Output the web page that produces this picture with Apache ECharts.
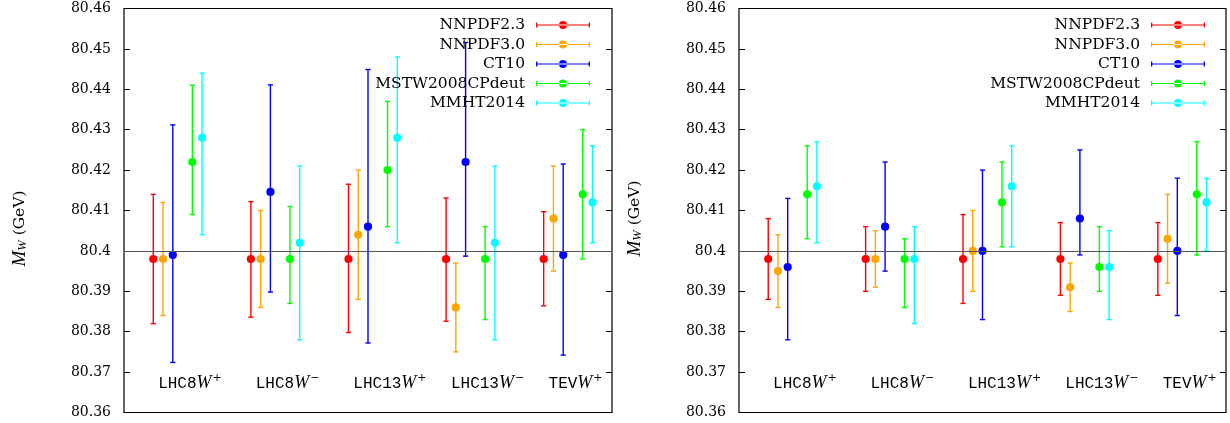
<!DOCTYPE html>
<html>
<head>
<meta charset="utf-8">
<script src="https://cdn.jsdelivr.net/npm/echarts@6/dist/echarts.min.js"></script>
<style>html,body{margin:0;padding:0;background:#fff}#c{width:1230px;height:423px}</style>
</head>
<body>
<div id="c"></div>
<script>
// ---------- data ----------
const groupNames = ['LHC8', 'LHC8', 'LHC13', 'LHC13', 'TEV'];
const groupCharges = ['+', '\u2212', '+', '\u2212', '+'];
const seriesNames = ['NNPDF2.3', 'NNPDF3.0', 'CT10', 'MSTW2008CPdeut', 'MMHT2014'];
const seriesColors = ['#ff0000', '#ffa500', '#0000ff', '#00ff00', '#00ffff'];
const referenceMass = 80.398;
const labelLevel = 80.3675;
const yMin = 80.36, yMax = 80.46, yStep = 0.01;

// each entry: [central, low, high] for groups LHC8W+, LHC8W-, LHC13W+, LHC13W-, TEVW+
const left_NNPDF23 = [[80.398, 80.382, 80.414], [80.398, 80.3836, 80.4122], [80.398, 80.3798, 80.4165], [80.398, 80.3826, 80.4131], [80.398, 80.3864, 80.4097]];
const left_NNPDF30 = [[80.398, 80.384, 80.412], [80.398, 80.386, 80.410], [80.404, 80.388, 80.420], [80.386, 80.375, 80.397], [80.408, 80.395, 80.421]];
const left_CT10 = [[80.399, 80.3724, 80.4312], [80.4146, 80.3898, 80.4411], [80.406, 80.3772, 80.4449], [80.422, 80.3987, 80.4516], [80.399, 80.3742, 80.4215]];
const left_MSTW = [[80.422, 80.409, 80.441], [80.398, 80.387, 80.411], [80.420, 80.406, 80.437], [80.398, 80.383, 80.406], [80.414, 80.398, 80.430]];
const left_MMHT = [[80.428, 80.404, 80.444], [80.402, 80.378, 80.421], [80.428, 80.402, 80.448], [80.402, 80.378, 80.421], [80.412, 80.402, 80.426]];

const right_NNPDF23 = [[80.398, 80.388, 80.408], [80.398, 80.390, 80.406], [80.398, 80.387, 80.409], [80.398, 80.389, 80.407], [80.398, 80.389, 80.407]];
const right_NNPDF30 = [[80.395, 80.386, 80.404], [80.398, 80.391, 80.405], [80.400, 80.390, 80.410], [80.391, 80.385, 80.397], [80.403, 80.392, 80.414]];
const right_CT10 = [[80.396, 80.378, 80.413], [80.406, 80.395, 80.422], [80.400, 80.383, 80.420], [80.408, 80.399, 80.425], [80.400, 80.384, 80.418]];
const right_MSTW = [[80.414, 80.403, 80.426], [80.398, 80.386, 80.403], [80.412, 80.401, 80.422], [80.396, 80.390, 80.406], [80.414, 80.399, 80.427]];
const right_MMHT = [[80.416, 80.402, 80.427], [80.398, 80.382, 80.406], [80.416, 80.401, 80.426], [80.396, 80.383, 80.405], [80.412, 80.400, 80.418]];

const leftPanel = [left_NNPDF23, left_NNPDF30, left_CT10, left_MSTW, left_MMHT];
const rightPanel = [right_NNPDF23, right_NNPDF30, right_CT10, right_MSTW, right_MMHT];

// ---------- layout ----------
const seriesOffsets = [-0.2, -0.1, 0, 0.2, 0.3];
const labelOffset = -0.15;
const SERIF = 'DejaVu Serif';

const chart = echarts.init(document.getElementById('c'), null, {renderer: 'canvas'});

function errRender(params, api) {
  const x = api.value(0);
  const c = api.coord([x, api.value(1)]);
  const lo = api.coord([x, api.value(2)]);
  const hi = api.coord([x, api.value(3)]);
  const color = api.visual('color');
  const cap = 2.6;
  const ls = {stroke: color, lineWidth: 1.4};
  return {
    type: 'group',
    children: [
      {type: 'line', shape: {x1: c[0], y1: lo[1], x2: c[0], y2: hi[1]}, style: ls},
      {type: 'line', shape: {x1: c[0] - cap, y1: lo[1], x2: c[0] + cap, y2: lo[1]}, style: ls},
      {type: 'line', shape: {x1: c[0] - cap, y1: hi[1], x2: c[0] + cap, y2: hi[1]}, style: ls},
      {type: 'circle', shape: {cx: c[0], cy: c[1], r: 4.1}, style: {fill: color}}
    ]
  };
}

function labelRender(params, api) {
  const p = api.coord([api.value(0), api.value(1)]);
  const i = params.dataIndex;
  return {
    type: 'text',
    x: p[0], y: p[1],
    style: {
      text: '{tt|' + groupNames[i] + '}{w|W}{sup|' + groupCharges[i] + '}',
      textAlign: 'left', textVerticalAlign: 'middle',
      rich: {
        tt: {fontFamily: 'Liberation Mono', fontSize: 16, fill: '#000', verticalAlign: 'bottom', lineHeight: 20},
        w: {fontFamily: 'Liberation Serif', fontStyle: 'italic', fontSize: 18, fill: '#000', verticalAlign: 'bottom', lineHeight: 20},
        sup: {fontFamily: 'DejaVu Serif', fontSize: 11, fill: '#000', verticalAlign: 'top', lineHeight: 20, padding: [0, 0, 0, 1]}
      }
    }
  };
}

const legendIcon = 'path://M0,1.5h1.3v5h-1.3zM52.7,1.5h1.3v5h-1.3zM0,3.4h54v1.2h-54zM23,4a4,4 0 1,0 8,0a4,4 0 1,0 -8,0z';

const grids = [
  {left: 124, width: 488, top: 8.5, height: 404, show: true, borderColor: '#000', borderWidth: 1.2, backgroundColor: 'transparent'},
  {left: 739, width: 487, top: 8.5, height: 404, show: true, borderColor: '#000', borderWidth: 1.2, backgroundColor: 'transparent'}
];

const xAxes = [0, 1].map(g => ({
  type: 'value', gridIndex: g, min: 0.5, max: 5.5,
  axisLine: {show: false}, axisTick: {show: false}, axisLabel: {show: false}, splitLine: {show: false}
}));

const yAxes = [];
[0, 1].forEach(g => {
  yAxes.push({
    type: 'value', gridIndex: g, position: 'left', min: yMin, max: yMax, interval: yStep,
    axisLine: {show: false},
    axisTick: {show: true, inside: true, length: 6, lineStyle: {color: '#000', width: 1}},
    axisLabel: {show: true, fontFamily: SERIF, fontSize: 14, color: '#000', margin: 13},
    splitLine: {show: false},
    name: '{i|M}{sub|W} (GeV)',
    nameLocation: 'middle', nameRotate: 90, nameGap: 95,
    nameTextStyle: {
      fontFamily: SERIF, fontSize: 15.5, color: '#000',
      padding: g === 0 ? [0, 36, 0, 0] : [0, 16, 0, 0],
      rich: {
        i: {fontFamily: 'Liberation Serif', fontStyle: 'italic', fontSize: 19, color: '#000'},
        sub: {fontFamily: 'Liberation Serif', fontStyle: 'italic', fontSize: 12.5, color: '#000', verticalAlign: 'bottom'}
      }
    }
  });
  yAxes.push({
    type: 'value', gridIndex: g, position: 'right', min: yMin, max: yMax, interval: yStep,
    axisLine: {show: false},
    axisTick: {show: true, inside: true, length: 6, lineStyle: {color: '#000', width: 1}},
    axisLabel: {show: false}, splitLine: {show: false}
  });
});

const series = [];
[leftPanel, rightPanel].forEach((panel, g) => {
  panel.forEach((vals, s) => {
    series.push({
      type: 'custom', name: seriesNames[s], xAxisIndex: g, yAxisIndex: g * 2,
      itemStyle: {color: seriesColors[s]},
      renderItem: errRender,
      encode: {x: 0, y: [1, 2, 3]},
      data: vals.map((v, k) => [k + 1 + seriesOffsets[s], v[0], v[1], v[2]]),
      z: 2
    });
  });
  // reference line
  series.push({
    type: 'line', xAxisIndex: g, yAxisIndex: g * 2, data: [], silent: true, z: 5,
    markLine: {silent: true, symbol: 'none', label: {show: false}, z: 5,
      lineStyle: {color: '#555', width: 1.2, type: 'solid'}, data: [{yAxis: referenceMass}]}
  });
  // group labels
  series.push({
    type: 'custom', xAxisIndex: g, yAxisIndex: g * 2, silent: true,
    renderItem: labelRender,
    data: groupNames.map((n, k) => [k + 1 + labelOffset, labelLevel]),
    z: 3
  });
});

const legendCommon = {
  orient: 'vertical', align: 'right', top: 12,
  itemWidth: 54, itemHeight: 8, itemGap: 3.5,
  icon: legendIcon,
  data: seriesNames,
  selectedMode: false,
  textStyle: {fontFamily: SERIF, fontSize: 15.5, color: '#000', padding: [0, 6, 0, 0], lineHeight: 15}
};

chart.setOption({
  animation: false,
  backgroundColor: '#fff',
  grid: grids,
  xAxis: xAxes,
  yAxis: yAxes,
  legend: [
    Object.assign({}, legendCommon, {right: 635}),
    Object.assign({}, legendCommon, {right: 20})
  ],
  series: series
});
</script>
</body>
</html>
